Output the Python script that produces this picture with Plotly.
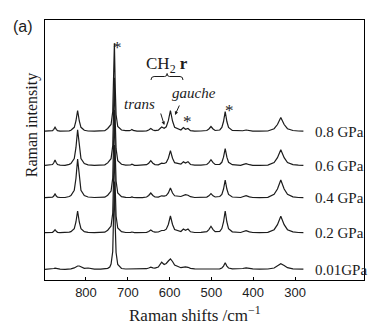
import plotly.graph_objects as go

# Raman shift axis (cm^-1), shared by every spectrum
shift_cm = [898, 890, 886, 880, 877, 874, 871, 868, 862, 850,
            840, 836, 828, 824, 820, 816, 812, 804, 795, 780,
            765, 755, 748, 743, 740, 736, 734, 732, 730, 728,
            724, 715, 705, 702, 696, 693, 690, 687, 684, 678,
            665, 655, 650, 645, 640, 635, 627, 623, 619, 613,
            608, 603, 598, 593, 588, 573, 567, 562, 556, 550,
            540, 525, 511, 506, 501, 496, 491, 480, 475, 471,
            467, 463, 459, 450, 435, 430, 425, 417, 409, 401,
            385, 365, 350, 342, 334, 326, 318, 305, 292, 280]

# Intensities above each spectrum's own baseline (arb. units)
i_08 = [0.3, 0.5, 0.6, 0.9, 2.2, 4.3, 2.2, 0.9, 0.4, 0.2,
        0.6, 1.2, 4.2, 10.5, 21, 10.5, 4.2, 1.2, 0.5, 0.3,
        0.6, 0.8, 3.0, 6.0, 7.0, 20, 45, 88, 44, 17,
        5.0, 1.5, 0.8, 0.7, 0.9, 1.2, 2.0, 1.1, 0.6, 0.3,
        0.4, 0.6, 1.5, 3.0, 1.5, 0.9, 1.4, 2.8, 4.5, 3.3,
        4.7, 10.8, 21, 10.5, 4.2, 1.5, 4.0, 2.2, 3.0, 0.9,
        0.4, 0.5, 1.0, 2.5, 5.0, 2.5, 1.0, 1.5, 4.0, 10,
        20, 10, 4.0, 1.1, 0.6, 0.3, 0.75, 1.5, 0.75, 0.3,
        0.3, 0.5, 2.8, 7.0, 14, 7.0, 2.8, 1.0, 0.5, 0.3]

i_06 = [0.4, 0.5, 0.8, 1.2, 2.9, 5.7, 2.9, 1.2, 0.5, 0.4,
        1.3, 2.2, 7.2, 18, 36, 18, 7.2, 2.2, 0.9, 0.4,
        0.5, 0.9, 2.8, 6.0, 7.0, 20, 44, 88, 44, 17,
        5.0, 1.4, 0.6, 0.5, 0.6, 0.9, 1.5, 0.8, 0.4, 0.3,
        0.5, 1.0, 2.5, 5.0, 2.5, 1.1, 0.9, 1.6, 2.5, 2.2,
        3.2, 7.5, 15, 7.5, 3.0, 1.5, 4.0, 2.6, 4.0, 1.2,
        0.5, 0.6, 1.2, 3.0, 6.0, 3.0, 1.2, 1.4, 3.4, 8.5,
        17, 8.5, 3.4, 1.0, 0.5, 0.4, 1.0, 2.0, 1.0, 0.4,
        0.4, 0.6, 3.2, 8.0, 16, 8.0, 3.2, 1.1, 0.5, 0.4]

i_04 = [0.3, 0.4, 0.5, 0.8, 2.0, 4.0, 2.0, 0.8, 0.5, 0.5,
        1.5, 2.4, 7.8, 19.5, 39, 19.5, 7.8, 2.4, 1.0, 0.5,
        0.4, 0.8, 2.8, 6.0, 7.0, 20, 45, 88, 44, 17,
        5.0, 1.4, 0.6, 0.4, 0.5, 0.6, 1.0, 0.6, 0.4, 0.3,
        0.4, 1.0, 2.5, 5.0, 2.5, 1.0, 0.9, 1.4, 2.2, 1.8,
        2.4, 5.0, 10, 5.0, 2.2, 1.5, 2.8, 3.3, 2.8, 1.3,
        0.5, 0.4, 0.9, 2.2, 4.3, 2.2, 1.0, 1.5, 3.6, 9.0,
        18, 9.0, 3.6, 1.0, 0.6, 0.5, 1.2, 2.3, 1.2, 0.5,
        0.4, 0.7, 3.6, 9.0, 18, 9.0, 3.6, 1.2, 0.5, 0.3]

i_02 = [0.3, 0.3, 0.4, 0.7, 1.7, 3.3, 1.7, 0.7, 0.4, 0.3,
        0.9, 1.3, 4.4, 11, 22, 11, 4.4, 1.3, 0.6, 0.4,
        0.5, 0.8, 2.8, 6.0, 7.0, 20, 44, 88, 44, 17,
        5.0, 1.3, 0.5, 0.4, 0.5, 0.6, 1.0, 0.6, 0.4, 0.3,
        0.4, 0.7, 1.5, 3.0, 1.5, 0.9, 1.0, 1.6, 2.5, 2.5,
        3.8, 8.5, 17, 8.5, 3.4, 1.5, 4.0, 2.8, 4.0, 1.2,
        0.5, 0.6, 1.4, 3.4, 6.7, 3.4, 1.4, 1.7, 4.4, 11,
        22, 11, 4.4, 1.2, 0.6, 0.5, 1.2, 2.3, 1.2, 0.5,
        0.4, 0.6, 3.3, 8.4, 16.7, 8.4, 3.3, 1.1, 0.5, 0.3]

i_001 = [0.2, 0.3, 0.4, 0.6, 1.0, 1.3, 1.0, 0.5, 0.3, 0.2,
         0.4, 0.7, 1.6, 2.8, 3.5, 3.5, 2.5, 1.2, 1.5, 0.4,
         0.3, 0.4, 1.2, 2.5, 5.5, 18, 44, 88, 44, 17,
         5.0, 1.0, 0.5, 0.5, 0.6, 0.8, 1.0, 0.7, 0.5, 0.4,
         0.5, 0.8, 1.5, 2.3, 1.6, 1.4, 2.5, 4.5, 7.3, 5.0,
         6.0, 8.5, 10.7, 8.0, 4.5, 1.8, 2.6, 2.7, 2.2, 1.2,
         0.6, 0.4, 0.4, 0.5, 0.6, 0.5, 0.5, 0.7, 1.5, 3.4,
         6.7, 3.4, 1.5, 0.6, 0.5, 0.6, 1.0, 1.7, 1.2, 0.6,
         0.4, 0.5, 1.5, 3.5, 5.7, 4.0, 1.8, 0.7, 0.4, 0.3]

pressure_labels = ["0.8 GPa", "0.6 GPa", "0.4 GPa", "0.2 GPa", "0.01GPa"]
spectra = [i_08, i_06, i_04, i_02, i_001]
# vertical stacking offset of each spectrum
offsets = [148.5, 114.3, 82.0, 47.0, 10.5]

x_ticks = [800, 700, 600, 500, 400, 300]

SERIF = "Liberation Serif, Times New Roman, serif"
SANS = "Liberation Sans, Arial, sans-serif"
INK = "#1c1c1c"

fig = go.Figure()
for vals, off in zip(spectra, offsets):
    fig.add_trace(go.Scatter(
        x=shift_cm, y=[v + off for v in vals], mode="lines",
        line=dict(color=INK, width=1.2), showlegend=False, hoverinfo="skip"))

ann = []
# pressure labels at the right end of each trace
for lab, off in zip(pressure_labels, offsets):
    ann.append(dict(x=258, y=off, xref="x", yref="y", text=lab, showarrow=False,
                    xanchor="left", yanchor="middle",
                    font=dict(family=SERIF, size=15, color=INK)))

# asterisks over the marked bands
for sx, sy in [(725, 237), (456.7, 174), (556, 163)]:
    ann.append(dict(x=sx, y=sy, xref="x", yref="y", text="*", showarrow=False,
                    xanchor="center", yanchor="middle", yshift=-4,
                    font=dict(family=SERIF, size=17, color=INK)))

# CH2 rocking label with its brace
ann.append(dict(x=606, y=215, xref="x", yref="y", text="CH<sub>2</sub> <b>r</b>",
                showarrow=False, xanchor="center", yanchor="middle",
                font=dict(family=SERIF, size=17, color=INK)))
ann.append(dict(x=673, y=176, xref="x", yref="y", text="<i>trans</i>",
                showarrow=False, xanchor="center", yanchor="middle",
                font=dict(family=SERIF, size=15, color=INK)))
ann.append(dict(x=541.6, y=187, xref="x", yref="y", text="<i>gauche</i>",
                showarrow=False, xanchor="center", yanchor="middle",
                font=dict(family=SERIF, size=15, color=INK)))
# arrows to the trans and gauche bands
ann.append(dict(x=612.7, y=155, xref="x", yref="y", text="", showarrow=True,
                ax=-4, ay=-13, arrowhead=2, arrowsize=0.7, arrowwidth=1,
                arrowcolor=INK))
ann.append(dict(x=587, y=165, xref="x", yref="y", text="", showarrow=True,
                ax=5, ay=-11, arrowhead=2, arrowsize=0.7, arrowwidth=1,
                arrowcolor=INK))

# panel tag and axis titles
ann.append(dict(x=-0.069, y=0.975, xref="paper", yref="paper", text="(a)",
                showarrow=False, xanchor="center", yanchor="middle",
                font=dict(family=SANS, size=16, color=INK)))
ann.append(dict(x=0.469, y=-0.132, xref="paper", yref="paper",
                text="Raman shifts /cm<sup>\u22121</sup>", showarrow=False,
                xanchor="center", yanchor="middle",
                font=dict(family=SERIF, size=17, color=INK)))
ann.append(dict(x=-0.04, y=0.596, xref="paper", yref="paper",
                text="Raman intensity", textangle=-90, showarrow=False,
                xanchor="center", yanchor="middle",
                font=dict(family=SERIF, size=16, color=INK)))

brace = ("M 644.5,200 Q 644.5,203.5 637,203.5 L 612,203.5 "
         "Q 606,203.5 606,206.5 Q 606,203.5 600,203.5 L 575,203.5 "
         "Q 568,203.5 568,200")

fig.update_layout(
    width=376, height=328,
    margin=dict(l=45, r=12, t=20, b=48),
    paper_bgcolor="white", plot_bgcolor="white",
    annotations=ann,
    shapes=[dict(type="path", path=brace, xref="x", yref="y",
                 line=dict(color=INK, width=1))],
    xaxis=dict(range=[898, 135], tickvals=x_ticks, ticks="inside", ticklen=3,
               tickcolor="black", showline=True, mirror=True, linecolor="black",
               linewidth=1, showgrid=False, zeroline=False,
               tickfont=dict(family=SANS, size=13, color=INK)),
    yaxis=dict(range=[0, 260], showticklabels=False, ticks="", showline=True,
               mirror=True, linecolor="black", linewidth=1, showgrid=False,
               zeroline=False),
)

fig.write_html("out.html")
